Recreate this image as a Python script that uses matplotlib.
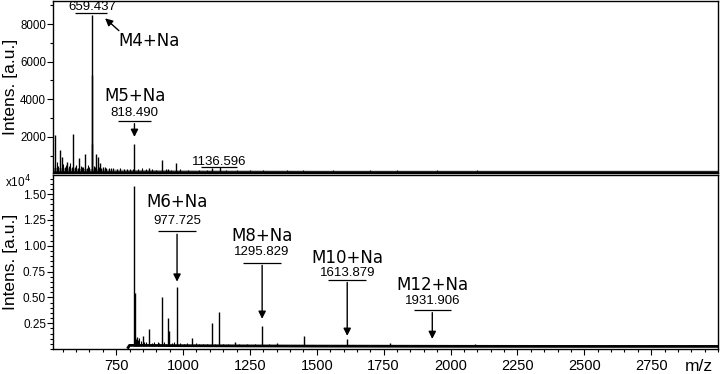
import matplotlib
matplotlib.use('Agg')
import matplotlib.pyplot as plt
from matplotlib.ticker import MultipleLocator, FixedLocator, FuncFormatter

# ---- data ----
# upper spectrum
top_mz = [520, 539, 547, 566, 589, 612, 633, 659.437, 660.4, 661.4, 675, 682, 690, 702,
          818.490, 874, 921, 945, 975, 1108, 1136.596]
top_int = [2100, 1300, 950, 670, 2150, 880, 1100, 8500, 5300, 1600, 1080, 950, 600, 400,
           1630, 330, 770, 300, 600, 330, 400]
top_noise_mz = [515, 523, 528, 534, 552, 557, 561, 572, 578, 584, 595, 600, 606, 618, 622,
                627, 640, 645, 650, 668, 672, 686, 695, 708, 714, 722, 731, 740, 752, 765,
                778, 790, 800, 812, 830, 845, 860, 885, 900, 935, 955, 990, 1020, 1060,
                1090, 1160, 1200, 1250, 1300, 1390, 1450, 1560, 1700, 1800, 1950, 2100]
top_noise_int = [600, 500, 650, 450, 550, 400, 500, 450, 600, 380, 420, 500, 350, 450, 380,
                 420, 360, 480, 400, 450, 380, 420, 350, 400, 330, 360, 320, 350, 300, 330,
                 290, 310, 300, 280, 300, 320, 270, 300, 260, 280, 250, 270, 240, 260,
                 230, 250, 240, 230, 240, 220, 230, 220, 230, 220, 220, 220]
top_base_mz = [514, 600, 700, 800, 1000, 1500, 3000]
top_base_int = [380, 330, 300, 270, 250, 230, 230]

# lower spectrum
bot_mz = [818.490, 820.5, 828, 849, 874, 921, 944, 949, 977.725, 1033, 1108, 1135, 1195,
          1295.829, 1351, 1454, 1613.879, 1775, 1931.906, 2092]
bot_int = [15800, 5400, 1170, 1300, 1940, 5000, 3000, 1700, 6030, 1070, 2500, 3600, 710,
           2270, 580, 1300, 940, 610, 390, 450]
bot_noise_mz = [823, 832, 836, 842, 856, 862, 884, 893, 905, 912, 930, 958, 965, 990,
                1005, 1015, 1048, 1060, 1075, 1090, 1120, 1150, 1170, 1210, 1240, 1270,
                1320, 1380, 1410, 1500, 1550, 1700, 1850, 2000]
bot_noise_int = [1000, 900, 1100, 800, 700, 650, 600, 700, 650, 600, 700, 600, 650, 550,
                 500, 550, 550, 500, 480, 500, 480, 460, 480, 450, 470, 440, 450, 430,
                 420, 420, 400, 400, 380, 380]
bot_base_mz = [795, 800, 900, 1000, 1200, 1500, 2000, 2500, 3000]
bot_base_int = [150, 350, 340, 320, 300, 280, 260, 250, 250]

# peak labels
top_labels = ['659.437', '818.490', '1136.596']
bot_labels = ['977.725', '1295.829', '1613.879', '1931.906']
bot_names = ['M6+Na', 'M8+Na', 'M10+Na', 'M12+Na']

num_font = 'Liberation Sans'
name_font = 'DejaVu Sans'

fig = plt.figure(figsize=(7.2, 3.74), dpi=100)
ax1 = fig.add_axes([53 / 720, 1 - 173 / 374, 665 / 720, 172.5 / 374])
ax2 = fig.add_axes([53 / 720, 1 - 349 / 374, 665 / 720, 174 / 374])

for ax in (ax1, ax2):
    ax.set_xlim(514, 3000)
    for s in ax.spines.values():
        s.set_linewidth(1.0)

# ---- upper panel ----
ax1.fill_between(top_base_mz, 80, top_base_int, color='#8a8a8a', lw=0)
ax1.vlines(top_noise_mz, 150, top_noise_int, color='black', lw=0.8)
ax1.vlines(top_mz, 150, top_int, color='black', lw=1.0)
ax1.plot([514, 3000], [150, 150], color='black', lw=1.8)
ax1.set_ylim(80, 9250)
ax1.yaxis.set_major_locator(FixedLocator([2000, 4000, 6000, 8000]))
ax1.yaxis.set_minor_locator(MultipleLocator(1000))
ax1.tick_params(axis='y', which='major', length=4, width=0.8, labelsize=8.3, pad=1)
ax1.tick_params(axis='y', which='minor', length=2.5, width=0.8)
ax1.tick_params(axis='x', which='both', bottom=False, labelbottom=False)
for lab in ax1.get_yticklabels():
    lab.set_fontfamily(num_font)
ax1.set_ylabel('Intens. [a.u.]', fontsize=12.5, fontfamily=num_font)
ax1.yaxis.set_label_coords(-0.053, 0.5)

# top annotations
ax1.text(top_mz[7], 8930, top_labels[0], ha='center', va='center', fontsize=9.5,
         fontfamily=num_font)
ax1.hlines(8610, top_mz[7] - 62, top_mz[7] + 58, color='black', lw=0.9)
ax1.annotate('', xy=(701, 8400), xytext=(768, 7550),
             arrowprops=dict(arrowstyle='-|>', color='black', lw=1.0, mutation_scale=11))
ax1.text(873, 7120, 'M4+Na', ha='center', va='center', fontsize=12, fontfamily=name_font)

ax1.text(820, 4190, 'M5+Na', ha='center', va='center', fontsize=12, fontfamily=name_font)
ax1.text(top_mz[14], 3280, top_labels[1], ha='center', va='center', fontsize=9.5,
         fontfamily=num_font)
ax1.hlines(2850, top_mz[14] - 62, top_mz[14] + 62, color='black', lw=0.9)
ax1.annotate('', xy=(top_mz[14], 1850), xytext=(top_mz[14], 2850),
             arrowprops=dict(arrowstyle='-|>', color='black', lw=1.0, mutation_scale=11))

ax1.text(top_mz[-1], 670, top_labels[2], ha='center', va='center', fontsize=9.5,
         fontfamily=num_font)
ax1.hlines(400, top_mz[-1] - 69, top_mz[-1] + 66, color='black', lw=0.9)

# ---- lower panel ----
ax2.vlines(bot_noise_mz, 250, bot_noise_int, color='black', lw=0.8)
ax2.vlines(bot_mz, 250, bot_int, color='black', lw=1.0)
ax2.plot(bot_base_mz, bot_base_int, color='black', lw=2.0)
ax2.set_ylim(0, 16850)
ax2.yaxis.set_major_locator(FixedLocator([2500, 5000, 7500, 10000, 12500, 15000]))
ax2.yaxis.set_minor_locator(MultipleLocator(500))
ax2.yaxis.set_major_formatter(FuncFormatter(lambda v, p: f'{v / 1e4:.2f}'))
ax2.xaxis.set_major_locator(MultipleLocator(250))
ax2.xaxis.set_minor_locator(MultipleLocator(50))
ax2.tick_params(axis='y', which='major', length=4, width=0.8, labelsize=8.5, pad=1)
ax2.tick_params(axis='y', which='minor', length=2.5, width=0.8)
ax2.tick_params(axis='x', which='major', length=4, width=0.8, labelsize=10.5, pad=3)
ax2.tick_params(axis='x', which='minor', length=2.5, width=0.8)
for lab in ax2.get_yticklabels() + ax2.get_xticklabels():
    lab.set_fontfamily(num_font)
ax2.set_xticks([750, 1000, 1250, 1500, 1750, 2000, 2250, 2500, 2750])
ax2.set_ylabel('Intens. [a.u.]', fontsize=12.5, fontfamily=num_font)
ax2.yaxis.set_label_coords(-0.053, 0.5)
ax2.text(-0.072, 0.96, 'x10$^4$', transform=ax2.transAxes, ha='left', va='center',
         fontsize=8.5, fontfamily=num_font)
ax2.text(0.971, -0.103, 'm/z', transform=ax2.transAxes, ha='center', va='center',
         fontsize=12.5, fontfamily=num_font)

# lower annotations: (name y, number y, underline y, arrow tip y)
bot_peaks = [977.725, 1295.829, 1613.879, 1931.906]
name_y = [14200, 10900, 8850, 6230]
num_y = [12350, 9440, 7390, 4670]
line_y = [11380, 8370, 6710, 3790]
tip_y = [6250, 2650, 1000, 700]
for mz, nm, lab, ny, vy, ly, ty in zip(bot_peaks, bot_names, bot_labels,
                                       name_y, num_y, line_y, tip_y):
    ax2.text(mz, ny, nm, ha='center', va='center', fontsize=12, fontfamily=name_font)
    ax2.text(mz, vy, lab, ha='center', va='center', fontsize=9.5, fontfamily=num_font)
    ax2.hlines(ly, mz - 70, mz + 70, color='black', lw=0.9)
    ax2.annotate('', xy=(mz, ty), xytext=(mz, ly),
                 arrowprops=dict(arrowstyle='-|>', color='black', lw=1.0,
                                 mutation_scale=11))

plt.savefig('out.png', dpi=100)
